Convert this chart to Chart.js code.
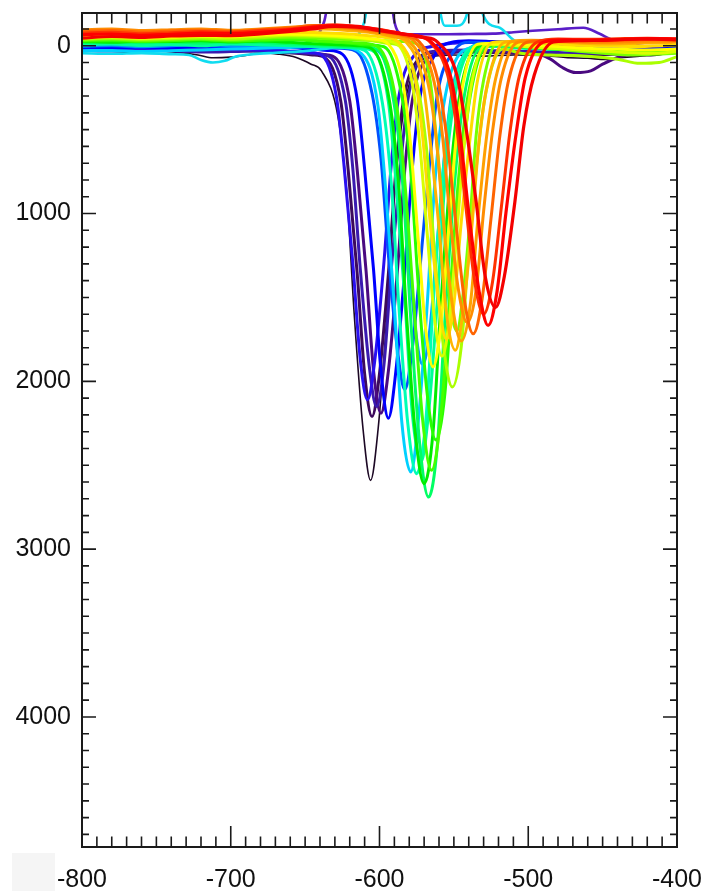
<!DOCTYPE html>
<html>
<head>
<meta charset="utf-8">
<script src="https://cdn.jsdelivr.net/npm/chart.js@4.4.1/dist/chart.umd.min.js"></script>
<style>
  html, body { margin: 0; padding: 0; background: #ffffff; }
  canvas { display: block; }
</style>
</head>
<body>
<canvas id="profiles" width="707" height="891"></canvas>
<script>
// Axis ranges and labelled ticks
const xRange = [-800, -400];
const yRange = [-195, 4775];
const xTicks = [-800, -700, -600, -500, -400];
const yTicks = [0, 1000, 2000, 3000, 4000];
const xMinorStep = 10;
const yMinorStep = 100;

// Profiles, each as [x, y] pairs, listed from the first (dark) to the last (red)
const p01 = [[-800,35],[-785,30],[-770,38],[-750,32],[-735,40],[-722,55],[-712,72],[-700,68],[-690,58],[-680,42],[-668,50],[-656,70],[-646,110],[-639,150],[-628,420],[-622,880],[-617,1600],[-611,2290],[-606,2590],[-601,2290],[-595,1600],[-590,880],[-584,400],[-578,170],[-573,95],[-565,65],[-550,55],[-530,62],[-510,55],[-490,58],[-475,70],[-460,75],[-448,82],[-436,70],[-425,62],[-412,55],[-400,30]];
const p02 = [[-800,25],[-780,22],[-760,30],[-740,28],[-720,35],[-700,30],[-680,32],[-665,40],[-652,48],[-645,55],[-637,70],[-626,333],[-621,745],[-615,1357],[-610,1954],[-605,2210],[-600,1954],[-594,1357],[-589,745],[-584,333],[-573,70],[-565,40],[-550,35],[-530,40],[-500,45],[-480,50],[-460,55],[-440,50],[-420,45],[-400,38]];
const p03 = [[-800,15],[-780,20],[-760,18],[-740,25],[-720,22],[-700,30],[-680,28],[-660,35],[-648,42],[-640,50],[-630,70],[-620,330],[-615,739],[-609,1345],[-604,1936],[-599,2190],[-594,1936],[-588,1345],[-583,739],[-578,330],[-567,70],[-555,45],[-540,35],[-515,38],[-495,45],[-485,80],[-477,130],[-468,160],[-458,150],[-450,110],[-440,70],[-425,45],[-410,35],[-400,30]];
const p04 = [[-800,30],[-780,26],[-760,32],[-740,24],[-720,28],[-700,22],[-680,20],[-662,12],[-650,-10],[-642,-60],[-637,-150],[-634,-300],[-631,-500],[-594,-500],[-591,-200],[-588,-90],[-584,-70],[-560,-68],[-540,-70],[-524,-72],[-510,-80],[-497,-89],[-480,-98],[-463,-107],[-452,-71],[-445,-40],[-438,-18],[-425,0],[-412,12],[-400,18]];
const p05 = [[-800,28],[-780,32],[-760,25],[-740,30],[-720,38],[-700,35],[-680,30],[-660,38],[-645,48],[-634,63],[-623,325],[-618,726],[-613,1321],[-607,1901],[-602,2150],[-597,1901],[-592,1321],[-586,726],[-581,325],[-571,63],[-560,30],[-540,25],[-520,30],[-500,35],[-480,40],[-460,45],[-440,40],[-420,35],[-400,30]];
const p06 = [[-800,20],[-780,25],[-760,18],[-740,22],[-720,15],[-700,20],[-680,25],[-665,30],[-650,38],[-640,50],[-629,302],[-624,699],[-618,1289],[-613,1863],[-608,2110],[-603,1863],[-597,1289],[-592,699],[-587,302],[-576,50],[-565,5],[-550,-15],[-535,-20],[-520,-25],[-500,-10],[-480,5],[-460,15],[-440,20],[-420,25],[-400,25]];
const p07 = [[-800,10],[-780,15],[-760,8],[-740,12],[-720,5],[-700,10],[-680,5],[-660,10],[-645,20],[-635,28],[-625,50],[-615,317],[-610,735],[-604,1335],[-599,1940],[-594,2220],[-589,1940],[-583,1335],[-578,735],[-573,317],[-562,44],[-552,-20],[-540,-30],[-525,-25],[-505,-15],[-485,0],[-465,20],[-445,30],[-425,20],[-410,15],[-400,10]];
const p08 = [[-800,5],[-780,0],[-760,8],[-740,-5],[-720,0],[-700,5],[-680,-5],[-660,0],[-640,10],[-628,15],[-616,32],[-605,285],[-599,673],[-594,1248],[-588,1809],[-583,2050],[-578,1809],[-572,1248],[-566,673],[-561,285],[-550,32],[-540,-20],[-525,-15],[-505,0],[-485,10],[-465,25],[-445,40],[-425,30],[-400,20]];
const p09 = [[-800,0],[-780,-5],[-760,5],[-740,0],[-720,-8],[-700,0],[-680,5],[-660,0],[-640,-5],[-625,0],[-612,10],[-601,31],[-591,265],[-586,624],[-581,1157],[-576,1677],[-571,1900],[-566,1677],[-561,1157],[-556,624],[-551,265],[-541,31],[-530,-10],[-515,0],[-495,10],[-470,20],[-450,25],[-430,30],[-400,25]];
const p10 = [[-800,30],[-780,28],[-760,35],[-740,30],[-720,25],[-700,20],[-680,15],[-660,10],[-640,5],[-625,10],[-612,48],[-601,360],[-596,839],[-590,1550],[-585,2243],[-579,2540],[-574,2243],[-568,1550],[-563,839],[-557,360],[-546,48],[-535,10],[-520,5],[-500,15],[-480,20],[-460,30],[-440,25],[-420,30],[-400,28]];
const p11 = [[-800,45],[-780,48],[-760,44],[-740,50],[-728,55],[-720,85],[-712,100],[-704,90],[-697,65],[-685,50],[-670,42],[-655,35],[-640,22],[-628,5],[-618,-35],[-612,-100],[-609,-200],[-606,-500],[-563,-500],[-559,-195],[-556,-119],[-548,-119],[-541,-195],[-538,-500],[-533,-500],[-531,-198],[-520,-110],[-510,-35],[-504,-5],[-495,10],[-475,25],[-455,35],[-435,30],[-415,38],[-400,32]];
const p12 = [[-800,-10],[-780,-15],[-760,-8],[-740,-12],[-720,-5],[-700,-15],[-680,-10],[-660,-5],[-640,0],[-622,10],[-610,28],[-598,344],[-592,829],[-587,1548],[-581,2249],[-575,2550],[-569,2249],[-564,1548],[-558,829],[-552,344],[-541,28],[-530,-5],[-515,5],[-495,15],[-470,25],[-450,30],[-430,35],[-400,30]];
const p13 = [[-800,-5],[-780,-10],[-760,-2],[-740,-8],[-720,0],[-700,-10],[-680,-5],[-660,0],[-640,5],[-620,10],[-605,27],[-594,335],[-589,806],[-583,1505],[-578,2187],[-572,2480],[-567,2187],[-561,1505],[-556,806],[-550,335],[-539,27],[-528,0],[-510,10],[-490,18],[-470,25],[-450,32],[-430,38],[-400,30]];
const p14 = [[-800,-20],[-780,-25],[-760,-18],[-740,-22],[-720,-15],[-700,-25],[-680,-20],[-660,-12],[-640,-5],[-622,5],[-612,8],[-602,20],[-590,355],[-584,868],[-579,1629],[-573,2371],[-567,2690],[-561,2371],[-556,1629],[-550,868],[-544,355],[-533,20],[-522,0],[-505,10],[-485,20],[-460,30],[-440,35],[-420,40],[-400,35]];
const p15 = [[-800,-25],[-780,-20],[-760,-28],[-740,-25],[-720,-30],[-700,-22],[-680,-28],[-660,-20],[-640,-10],[-625,-5],[-615,0],[-605,19],[-593,344],[-587,842],[-582,1580],[-576,2301],[-570,2610],[-564,2301],[-559,1580],[-553,842],[-547,344],[-536,19],[-525,-10],[-510,0],[-490,15],[-470,25],[-450,35],[-425,40],[-400,30]];
const p16 = [[-800,-28],[-780,-30],[-760,-25],[-740,-30],[-720,-35],[-700,-28],[-680,-32],[-660,-35],[-640,-25],[-620,-15],[-608,-5],[-597,6],[-585,300],[-579,750],[-574,1419],[-568,2070],[-562,2350],[-556,2070],[-551,1419],[-545,750],[-539,300],[-528,6],[-515,-10],[-495,5],[-475,20],[-455,30],[-435,38],[-415,42],[-400,38]];
const p17 = [[-800,-30],[-780,-35],[-760,-28],[-740,-32],[-720,-38],[-700,-30],[-680,-35],[-660,-40],[-640,-30],[-625,-22],[-612,-15],[-601,8],[-589,324],[-583,809],[-577,1528],[-571,2229],[-565,2530],[-559,2229],[-553,1528],[-547,809],[-541,324],[-529,8],[-518,-15],[-500,0],[-480,15],[-460,25],[-440,40],[-420,45],[-400,40]];
const p18 = [[-800,-35],[-780,-40],[-760,-32],[-740,-38],[-720,-42],[-700,-35],[-680,-45],[-660,-50],[-640,-45],[-620,-35],[-600,-30],[-585,-25],[-575,-11],[-566,204],[-562,532],[-557,1020],[-553,1496],[-548,1700],[-544,1496],[-539,1020],[-535,532],[-530,204],[-521,-11],[-510,-5],[-490,10],[-470,30],[-450,45],[-430,55],[-410,50],[-400,45]];
const p19 = [[-800,-40],[-780,-45],[-760,-38],[-740,-42],[-720,-48],[-700,-40],[-680,-50],[-660,-60],[-640,-55],[-620,-45],[-605,-30],[-595,-15],[-586,3],[-574,257],[-568,648],[-563,1227],[-557,1792],[-551,2034],[-545,1792],[-540,1227],[-534,648],[-528,257],[-517,20],[-505,45],[-485,55],[-465,60],[-440,80],[-425,105],[-412,100],[-400,65]];
const p20 = [[-800,-45],[-780,-50],[-760,-42],[-740,-48],[-720,-55],[-700,-50],[-680,-58],[-660,-65],[-640,-60],[-620,-50],[-608,-40],[-598,-30],[-588,-9],[-578,224],[-573,581],[-568,1111],[-563,1628],[-558,1850],[-553,1628],[-548,1111],[-543,581],[-538,224],[-528,-9],[-515,-5],[-495,10],[-475,20],[-455,30],[-435,40],[-415,45],[-400,35]];
const p21 = [[-800,-50],[-780,-55],[-760,-48],[-740,-52],[-720,-60],[-700,-55],[-680,-65],[-660,-70],[-640,-65],[-620,-55],[-604,-40],[-594,-9],[-584,233],[-579,602],[-574,1151],[-569,1685],[-564,1915],[-559,1685],[-554,1151],[-549,602],[-544,233],[-534,-9],[-520,-15],[-500,-5],[-480,5],[-460,15],[-440,20],[-420,25],[-400,20]];
const p22 = [[-800,-60],[-780,-65],[-760,-58],[-740,-62],[-720,-70],[-700,-65],[-680,-75],[-660,-80],[-640,-78],[-620,-70],[-607,-60],[-597,-50],[-587,-20],[-576,202],[-571,542],[-566,1047],[-560,1539],[-555,1750],[-550,1539],[-545,1047],[-539,542],[-534,202],[-524,-20],[-510,-25],[-490,-15],[-470,-5],[-450,0],[-430,5],[-410,0],[-400,-5]];
const p23 = [[-800,-70],[-780,-75],[-760,-68],[-740,-72],[-720,-80],[-700,-75],[-680,-85],[-660,-95],[-640,-100],[-620,-90],[-604,-75],[-592,-55],[-582,-20],[-571,210],[-566,563],[-560,1086],[-555,1596],[-549,1815],[-544,1596],[-538,1086],[-533,563],[-527,210],[-516,-20],[-505,-30],[-485,-25],[-465,-15],[-445,-10],[-425,-15],[-400,-20]];
const p24 = [[-800,-80],[-780,-85],[-760,-78],[-740,-82],[-720,-90],[-700,-85],[-680,-92],[-660,-100],[-645,-110],[-630,-105],[-612,-90],[-598,-70],[-588,-50],[-580,-25],[-568,199],[-562,542],[-557,1051],[-551,1547],[-545,1760],[-539,1547],[-534,1051],[-528,542],[-522,199],[-511,-25],[-498,-32],[-478,-28],[-458,-20],[-438,-18],[-418,-22],[-400,-25]];
const p25 = [[-800,-95],[-780,-100],[-760,-90],[-740,-95],[-720,-100],[-700,-92],[-680,-100],[-660,-110],[-645,-118],[-630,-112],[-610,-95],[-596,-75],[-586,-60],[-576,-21],[-564,188],[-558,509],[-553,986],[-547,1451],[-541,1650],[-535,1451],[-530,986],[-524,509],[-518,188],[-507,-21],[-495,-30],[-475,-25],[-455,-20],[-435,-25],[-415,-30],[-400,-28]];
const p26 = [[-800,-85],[-780,-90],[-760,-82],[-740,-88],[-720,-92],[-700,-85],[-680,-95],[-660,-105],[-645,-120],[-630,-118],[-610,-100],[-595,-80],[-583,-60],[-573,-21],[-561,197],[-555,531],[-549,1026],[-543,1509],[-537,1716],[-531,1509],[-525,1026],[-519,531],[-513,197],[-501,-21],[-490,-30],[-470,-35],[-450,-30],[-430,-35],[-410,-38],[-400,-35]];
const p27 = [[-800,-75],[-780,-80],[-760,-72],[-740,-78],[-720,-85],[-700,-80],[-680,-90],[-660,-100],[-645,-115],[-630,-125],[-612,-110],[-595,-90],[-584,-70],[-576,-60],[-566,-22],[-554,181],[-548,493],[-542,955],[-536,1406],[-530,1600],[-524,1406],[-518,955],[-512,493],[-506,181],[-494,-22],[-480,-40],[-460,-38],[-440,-42],[-420,-45],[-400,-42]];
const p28 = [[-800,-65],[-780,-70],[-760,-62],[-740,-68],[-720,-75],[-700,-72],[-680,-80],[-660,-95],[-645,-110],[-630,-120],[-615,-115],[-600,-95],[-587,-75],[-575,-55],[-565,-21],[-552,190],[-546,515],[-540,996],[-533,1466],[-527,1667],[-521,1466],[-515,996],[-508,515],[-502,190],[-490,-21],[-475,-35],[-455,-32],[-435,-38],[-415,-42],[-400,-40]];
const p29 = [[-800,-45],[-780,-55],[-760,-50],[-740,-58],[-720,-62],[-700,-60],[-680,-70],[-660,-85],[-645,-100],[-630,-115],[-615,-110],[-600,-90],[-585,-70],[-570,-50],[-561,-22],[-548,176],[-542,480],[-535,931],[-529,1371],[-522,1560],[-516,1371],[-509,931],[-503,480],[-496,176],[-483,-22],[-465,-30],[-445,-35],[-425,-40],[-410,-38],[-400,-35]];

const profiles = [p01, p02, p03, p04, p05, p06, p07, p08, p09, p10, p11, p12, p13, p14, p15,
                  p16, p17, p18, p19, p20, p21, p22, p23, p24, p25, p26, p27, p28, p29];
const profileColors = [
  '#1c0824', '#3c0a5c', '#4a0a80', '#5a1ec8', '#3a1ab0', '#2a10f0', '#0000ff', '#0050ff',
  '#0096ff', '#00d0ff', '#10dcf0', '#00ffb4', '#00ff96', '#00ff64', '#00ec00', '#28ff00',
  '#46ff00', '#78ff00', '#aaff00', '#d8ff00', '#ffff00', '#ffdc00', '#ffb400', '#ffa000',
  '#ff8c00', '#ff6400', '#ff3200', '#ff0000', '#f40000'
];
const profileWidths = [1.6, 3, 3, 2.6, 3, 3, 3, 3, 3, 3, 2.6, 3, 3, 3, 3,
                       3, 3, 3, 3, 3, 3, 3, 3, 3, 3, 3, 3, 3.2, 3.2];

const fontFamily = '"Liberation Sans", Arial, Helvetica, sans-serif';

// Box frame with inward major/minor ticks on all four sides
const frameTicks = {
  id: 'frameTicks',
  beforeDraw(chart) {
    const ctx = chart.ctx;
    ctx.save();
    ctx.fillStyle = '#f5f5f5';
    ctx.fillRect(12, 853, 43, 38);
    ctx.restore();
  },
  afterDraw(chart) {
    const { ctx, chartArea: a, scales } = chart;
    const x = scales.x, y = scales.y;
    ctx.save();
    ctx.strokeStyle = '#1a1a1a';
    ctx.lineWidth = 1.6;
    ctx.beginPath();
    for (let v = xRange[0]; v <= xRange[1]; v += xMinorStep) {
      const px = x.getPixelForValue(v);
      const len = xTicks.includes(v) ? 21 : 10.5;
      ctx.moveTo(px, a.bottom); ctx.lineTo(px, a.bottom - len);
      ctx.moveTo(px, a.top); ctx.lineTo(px, a.top + len);
    }
    const yStart = Math.ceil(yRange[0] / yMinorStep) * yMinorStep;
    for (let v = yStart; v <= yRange[1]; v += yMinorStep) {
      const py = y.getPixelForValue(v);
      const len = yTicks.includes(v) ? 14 : 7;
      ctx.moveTo(a.left, py); ctx.lineTo(a.left + len, py);
      ctx.moveTo(a.right, py); ctx.lineTo(a.right - len, py);
    }
    ctx.stroke();
    ctx.lineWidth = 2;
    ctx.strokeRect(a.left, a.top, a.right - a.left, a.bottom - a.top);
    ctx.restore();
  }
};

const datasets = profiles.map((pts, i) => ({
  data: pts.map(p => ({ x: p[0], y: p[1] })),
  borderColor: profileColors[i],
  borderWidth: profileWidths[i],
  pointRadius: 0,
  cubicInterpolationMode: 'monotone',
  fill: false,
  order: profiles.length - i
}));

new Chart(document.getElementById('profiles'), {
  type: 'line',
  data: { datasets },
  plugins: [frameTicks],
  options: {
    responsive: false,
    animation: false,
    devicePixelRatio: 1,
    layout: { padding: { top: 13, right: 30, left: 0, bottom: 0 } },
    plugins: { legend: { display: false }, tooltip: { enabled: false } },
    scales: {
      x: {
        type: 'linear',
        min: xRange[0], max: xRange[1],
        grid: { display: false, drawTicks: false, tickLength: 0 },
        border: { display: false },
        afterBuildTicks: s => { s.ticks = xTicks.map(v => ({ value: v })); },
        afterFit: s => { s.height = 44; s.paddingLeft = 0; s.paddingRight = 0; },
        ticks: {
          autoSkip: false, maxRotation: 0, padding: 18,
          color: '#111', font: { family: fontFamily, size: 25 },
          callback: v => String(v)
        }
      },
      y: {
        type: 'linear',
        reverse: true,
        min: yRange[0], max: yRange[1],
        grid: { display: false, drawTicks: false, tickLength: 0 },
        border: { display: false },
        afterBuildTicks: s => { s.ticks = yTicks.map(v => ({ value: v })); },
        afterFit: s => { s.width = 82; s.paddingTop = 0; s.paddingBottom = 0; },
        ticks: {
          autoSkip: false, padding: 11,
          color: '#111', font: { family: fontFamily, size: 25 },
          callback: v => String(v)
        }
      }
    }
  }
});
</script>
</body>
</html>
